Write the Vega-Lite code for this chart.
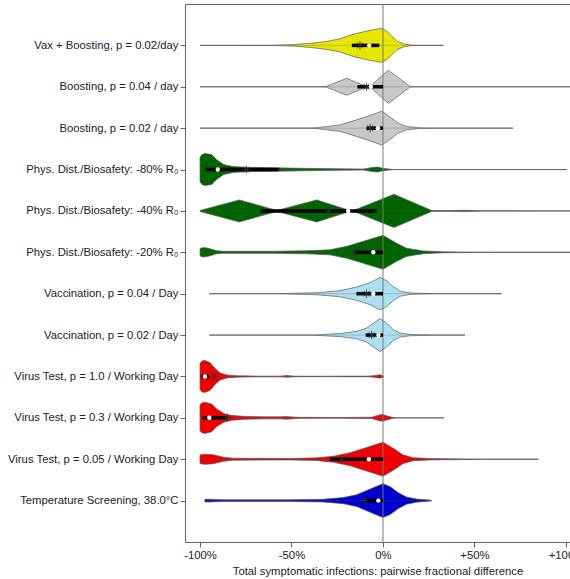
{
  "$schema": "https://vega.github.io/schema/vega-lite/v6.json",
  "autosize": "none",
  "width": 385,
  "height": 538,
  "padding": {"left": 185, "top": 4, "right": 0, "bottom": 37},
  "config": {
    "font": "Liberation Sans",
    "view": {"stroke": "#666666", "strokeWidth": 1},
    "axisX": {
      "domain": false, "grid": false, "tickSize": 5, "tickColor": "#666666",
      "labelFontSize": 11.3, "labelColor": "#222222", "labelPadding": 2,
      "titleFontSize": 11.3, "titleFontWeight": "normal", "titleColor": "#222222", "titlePadding": 5
    },
    "axisY": {
      "domain": false, "grid": false, "tickSize": 5, "tickColor": "#666666",
      "labelFontSize": 11.3, "labelColor": "#222222", "labelPadding": 2
    }
  },
  "datasets": {
    "vio": [
      {"k":1,"v":-100,"d":0},{"k":1,"v":-60,"d":0.01},{"k":1,"v":-48,"d":0.05},{"k":1,"v":-38,"d":0.14},{"k":1,"v":-30,"d":0.25},{"k":1,"v":-23.5,"d":0.39},{"k":1,"v":-16.4,"d":0.65},{"k":1,"v":-11,"d":0.79},{"k":1,"v":-5.5,"d":0.92},{"k":1,"v":-0.5,"d":1.0},{"k":1,"v":2.2,"d":0.84},{"k":1,"v":4.9,"d":0.53},{"k":1,"v":7.7,"d":0.25},{"k":1,"v":11.3,"d":0.09},{"k":1,"v":15,"d":0.02},{"k":1,"v":20,"d":0},{"k":1,"v":33,"d":0},
      {"k":2,"v":-100,"d":0},{"k":2,"v":-35,"d":0},{"k":2,"v":-31,"d":0.02},{"k":2,"v":-19.8,"d":0.5},{"k":2,"v":-9.5,"d":0.03},{"k":2,"v":-7,"d":0.03},{"k":2,"v":2.9,"d":0.98},{"k":2,"v":14.8,"d":0.02},{"k":2,"v":20,"d":0},{"k":2,"v":102.2,"d":0},
      {"k":3,"v":-100,"d":0},{"k":3,"v":-40,"d":0},{"k":3,"v":-36,"d":0.03},{"k":3,"v":-23.5,"d":0.19},{"k":3,"v":-14.4,"d":0.49},{"k":3,"v":-7,"d":0.75},{"k":3,"v":-0.7,"d":1.0},{"k":3,"v":3.5,"d":0.69},{"k":3,"v":8.4,"d":0.29},{"k":3,"v":12.9,"d":0.1},{"k":3,"v":20,"d":0.02},{"k":3,"v":26,"d":0},{"k":3,"v":71,"d":0},
      {"k":4,"v":-100,"d":0.71},{"k":4,"v":-99,"d":0.88},{"k":4,"v":-97.3,"d":0.94},{"k":4,"v":-93.6,"d":0.88},{"k":4,"v":-91,"d":0.59},{"k":4,"v":-87,"d":0.29},{"k":4,"v":-82,"d":0.18},{"k":4,"v":-73,"d":0.12},{"k":4,"v":-58,"d":0.1},{"k":4,"v":-42,"d":0.07},{"k":4,"v":-23.5,"d":0.04},{"k":4,"v":-10.7,"d":0.03},{"k":4,"v":-6,"d":0.12},{"k":4,"v":-3,"d":0.15},{"k":4,"v":0,"d":0.07},{"k":4,"v":3.8,"d":0.02},{"k":4,"v":6,"d":0},{"k":4,"v":100.4,"d":0},
      {"k":5,"v":-100,"d":0.03},{"k":5,"v":-78.5,"d":0.65},{"k":5,"v":-58,"d":0.03},{"k":5,"v":-36.2,"d":0.65},{"k":5,"v":-18,"d":0.02},{"k":5,"v":-16.2,"d":0.02},{"k":5,"v":6,"d":0.98},{"k":5,"v":26.6,"d":0.03},{"k":5,"v":35,"d":0.02},{"k":5,"v":45,"d":0.04},{"k":5,"v":55,"d":0.01},{"k":5,"v":102.2,"d":0},
      {"k":6,"v":-100,"d":0.21},{"k":6,"v":-98.5,"d":0.28},{"k":6,"v":-96,"d":0.25},{"k":6,"v":-93.6,"d":0.18},{"k":6,"v":-91,"d":0.09},{"k":6,"v":-87,"d":0.06},{"k":6,"v":-60,"d":0.06},{"k":6,"v":-41.7,"d":0.09},{"k":6,"v":-29,"d":0.15},{"k":6,"v":-19.8,"d":0.35},{"k":6,"v":-10.7,"d":0.65},{"k":6,"v":0,"d":1.0},{"k":6,"v":7.5,"d":0.53},{"k":6,"v":12.9,"d":0.24},{"k":6,"v":22,"d":0.08},{"k":6,"v":33,"d":0.03},{"k":6,"v":49,"d":0.01},{"k":6,"v":60,"d":0},{"k":6,"v":102.2,"d":0},
      {"k":7,"v":-95,"d":0},{"k":7,"v":-55,"d":0},{"k":7,"v":-50.8,"d":0.02},{"k":7,"v":-36.2,"d":0.06},{"k":7,"v":-23.5,"d":0.18},{"k":7,"v":-14.4,"d":0.39},{"k":7,"v":-7,"d":0.65},{"k":7,"v":-1.6,"d":0.96},{"k":7,"v":2,"d":0.76},{"k":7,"v":5.6,"d":0.41},{"k":7,"v":9.3,"d":0.15},{"k":7,"v":14.8,"d":0.04},{"k":7,"v":22,"d":0.02},{"k":7,"v":28,"d":0},{"k":7,"v":64.8,"d":0},
      {"k":8,"v":-95,"d":0},{"k":8,"v":-40,"d":0},{"k":8,"v":-36,"d":0.02},{"k":8,"v":-23.5,"d":0.09},{"k":8,"v":-14.4,"d":0.22},{"k":8,"v":-9,"d":0.41},{"k":8,"v":-4.4,"d":0.76},{"k":8,"v":-1.6,"d":0.97},{"k":8,"v":2,"d":0.71},{"k":8,"v":5.6,"d":0.32},{"k":8,"v":9.3,"d":0.12},{"k":8,"v":14.8,"d":0.04},{"k":8,"v":22,"d":0.02},{"k":8,"v":28,"d":0},{"k":8,"v":44.8,"d":0},
      {"k":9,"v":-100,"d":0.76},{"k":9,"v":-99,"d":0.91},{"k":9,"v":-97.3,"d":0.94},{"k":9,"v":-94.5,"d":0.82},{"k":9,"v":-91.8,"d":0.47},{"k":9,"v":-89,"d":0.21},{"k":9,"v":-85.4,"d":0.09},{"k":9,"v":-80,"d":0.04},{"k":9,"v":-69,"d":0.02},{"k":9,"v":-56,"d":0.02},{"k":9,"v":-52.6,"d":0.05},{"k":9,"v":-49,"d":0.02},{"k":9,"v":-41.7,"d":0.01},{"k":9,"v":-8,"d":0.02},{"k":9,"v":-5.3,"d":0.04},{"k":9,"v":-1.6,"d":0.1},{"k":9,"v":0.2,"d":0.03},
      {"k":10,"v":-100,"d":0.76},{"k":10,"v":-99,"d":0.88},{"k":10,"v":-97.3,"d":0.92},{"k":10,"v":-93.6,"d":0.82},{"k":10,"v":-91,"d":0.53},{"k":10,"v":-87,"d":0.26},{"k":10,"v":-83.6,"d":0.15},{"k":10,"v":-76.3,"d":0.09},{"k":10,"v":-65.4,"d":0.06},{"k":10,"v":-56,"d":0.06},{"k":10,"v":-52.6,"d":0.08},{"k":10,"v":-48,"d":0.04},{"k":10,"v":-45.4,"d":0.03},{"k":10,"v":-23.5,"d":0.02},{"k":10,"v":-6.2,"d":0.04},{"k":10,"v":-1.6,"d":0.18},{"k":10,"v":0,"d":0.19},{"k":10,"v":2,"d":0.12},{"k":10,"v":5.6,"d":0.02},{"k":10,"v":8,"d":0},{"k":10,"v":33.3,"d":0},
      {"k":11,"v":-100,"d":0.25},{"k":11,"v":-98.5,"d":0.29},{"k":11,"v":-96,"d":0.29},{"k":11,"v":-92.7,"d":0.26},{"k":11,"v":-87.2,"d":0.12},{"k":11,"v":-81.8,"d":0.06},{"k":11,"v":-50.8,"d":0.04},{"k":11,"v":-36.2,"d":0.08},{"k":11,"v":-27.1,"d":0.18},{"k":11,"v":-18,"d":0.38},{"k":11,"v":-9,"d":0.69},{"k":11,"v":0,"d":1.0},{"k":11,"v":5.6,"d":0.65},{"k":11,"v":11.1,"d":0.25},{"k":11,"v":16.6,"d":0.09},{"k":11,"v":25.7,"d":0.04},{"k":11,"v":44,"d":0.02},{"k":11,"v":55,"d":0},{"k":11,"v":84.9,"d":0},
      {"k":12,"v":-97.3,"d":0.08},{"k":12,"v":-94.5,"d":0.08},{"k":12,"v":-87,"d":0.05},{"k":12,"v":-50.8,"d":0.05},{"k":12,"v":-32.6,"d":0.08},{"k":12,"v":-21.7,"d":0.18},{"k":12,"v":-14.4,"d":0.35},{"k":12,"v":-7,"d":0.69},{"k":12,"v":0,"d":1.0},{"k":12,"v":4,"d":0.82},{"k":12,"v":8.4,"d":0.47},{"k":12,"v":12.9,"d":0.21},{"k":12,"v":18.4,"d":0.09},{"k":12,"v":25.7,"d":0.03},{"k":12,"v":26.6,"d":0}
    ],
    "stats": [
      {"c":"Vax + Boosting, p = 0.02/day","mn":-100,"mx":33,"q1":-17,"q3":-2,"med":-7.5,"mean":-12.6},
      {"c":"Boosting, p = 0.04 / day","mn":-100,"mx":102.2,"q1":-14,"q3":0,"med":-6.6,"mean":-9},
      {"c":"Boosting, p = 0.02 / day","mn":-100,"mx":71,"q1":-9,"q3":0,"med":-2.8,"mean":-7},
      {"c":"Phys. Dist./Biosafety: -80% R\u2080","mn":-100,"mx":100.4,"q1":-97,"q3":-57,"med":-90.3,"mean":-74.7},
      {"c":"Phys. Dist./Biosafety: -40% R\u2080","mn":-100,"mx":102.2,"q1":-67,"q3":-3.5,"med":-19,"mean":-30},
      {"c":"Phys. Dist./Biosafety: -20% R\u2080","mn":-100,"mx":102.2,"q1":-16,"q3":0,"med":-5.3,"mean":-15.8},
      {"c":"Vaccination, p = 0.04 / Day","mn":-95,"mx":64.8,"q1":-14.5,"q3":0,"med":-5.3,"mean":-9},
      {"c":"Vaccination, p = 0.02 / Day","mn":-95,"mx":44.8,"q1":-9.5,"q3":0,"med":-2.5,"mean":-6.2},
      {"c":"Virus Test, p = 1.0 / Working Day","mn":-100,"mx":0.2,"q1":-99.5,"q3":-95,"med":-97.3,"mean":-92},
      {"c":"Virus Test, p = 0.3 / Working Day","mn":-100,"mx":33.3,"q1":-98.6,"q3":-85,"med":-94.9,"mean":-85},
      {"c":"Virus Test, p = 0.05 / Working Day","mn":-100,"mx":84.9,"q1":-29,"q3":0,"med":-7.7,"mean":-22.6},
      {"c":"Temperature Screening, 38.0\u00b0C","mn":-97.3,"mx":26.6,"q1":-10.7,"q3":0,"med":-2.5,"mean":-10}
    ]
  },
  "layer": [
    {
      "data": {"name": "vio"},
      "transform": [
        {"calculate": "datum.k - 0.41 * datum.d", "as": "lo"},
        {"calculate": "datum.k + 0.41 * datum.d", "as": "hi"}
      ],
      "mark": {"type": "area", "stroke": "#5a5a5a", "strokeWidth": 0.7, "clip": true, "fillOpacity": 1},
      "encoding": {
        "x": {"field": "v", "type": "quantitative", "title": "Total symptomatic infections: pairwise fractional difference",
              "axis": {"values": [-100, -50, 0, 50, 100], "labelExpr": "datum.value > 0 ? '+' + datum.value + '%' : datum.value + '%'"},
              "scale": {"domain": [-108.2, 102.2], "nice": false, "zero": false}},
        "y": {"field": "lo", "type": "quantitative", "axis": null, "scale": {"domain": [0, 13], "reverse": true, "nice": false, "zero": false}},
        "y2": {"field": "hi"},
        "fill": {"field": "k", "type": "nominal", "legend": null,
                 "scale": {"domain": [1,2,3,4,5,6,7,8,9,10,11,12],
                           "range": ["#E6E600","#C8C8C8","#C8C8C8","#006400","#006400","#006400","#ADDFF2","#ADDFF2","#F00000","#F00000","#F00000","#0000CD"]}}
      }
    },
    {
      "data": {"values": [{}]},
      "mark": {"type": "rule", "color": "#7a7a7a", "strokeWidth": 1},
      "encoding": {"x": {"datum": 0, "type": "quantitative", "title": "Total symptomatic infections: pairwise fractional difference", "axis": {"values": [-100, -50, 0, 50, 100], "labelExpr": "datum.value > 0 ? '+' + datum.value + '%' : datum.value + '%'"}}}
    },
    {
      "data": {"name": "stats"},
      "encoding": {
        "y": {"field": "c", "type": "nominal", "title": null, "sort": null,
              "axis": {"orient": "left"},
              "scale": {"type": "point", "padding": 1}}
      },
      "layer": [
        {
          "mark": {"type": "rule", "color": "#555555", "strokeWidth": 0.6, "opacity": 0.45, "clip": true},
          "encoding": {"x": {"field": "mn", "type": "quantitative", "title": "Total symptomatic infections: pairwise fractional difference", "axis": {"values": [-100, -50, 0, 50, 100], "labelExpr": "datum.value > 0 ? '+' + datum.value + '%' : datum.value + '%'"}}, "x2": {"field": "mx"}}
        },
        {
          "mark": {"type": "rule", "color": "#000000", "strokeWidth": 3.5},
          "encoding": {"x": {"field": "q1", "type": "quantitative", "title": "Total symptomatic infections: pairwise fractional difference", "axis": {"values": [-100, -50, 0, 50, 100], "labelExpr": "datum.value > 0 ? '+' + datum.value + '%' : datum.value + '%'"}}, "x2": {"field": "q3"}}
        },
        {
          "mark": {"type": "point", "shape": "M-1,0L1,0M0,-1L0,1M-0.7,-0.7L0.7,0.7M-0.7,0.7L0.7,-0.7", "filled": false, "color": "#333333", "strokeWidth": 0.8, "size": 70, "opacity": 1},
          "encoding": {"x": {"field": "mean", "type": "quantitative", "title": "Total symptomatic infections: pairwise fractional difference", "axis": {"values": [-100, -50, 0, 50, 100], "labelExpr": "datum.value > 0 ? '+' + datum.value + '%' : datum.value + '%'"}}}
        },
        {
          "mark": {"type": "point", "shape": "circle", "filled": true, "color": "#ffffff", "size": 20, "opacity": 1},
          "encoding": {"x": {"field": "med", "type": "quantitative", "title": "Total symptomatic infections: pairwise fractional difference", "axis": {"values": [-100, -50, 0, 50, 100], "labelExpr": "datum.value > 0 ? '+' + datum.value + '%' : datum.value + '%'"}}}
        }
      ]
    }
  ],
  "resolve": {"scale": {"y": "independent"}}
}
